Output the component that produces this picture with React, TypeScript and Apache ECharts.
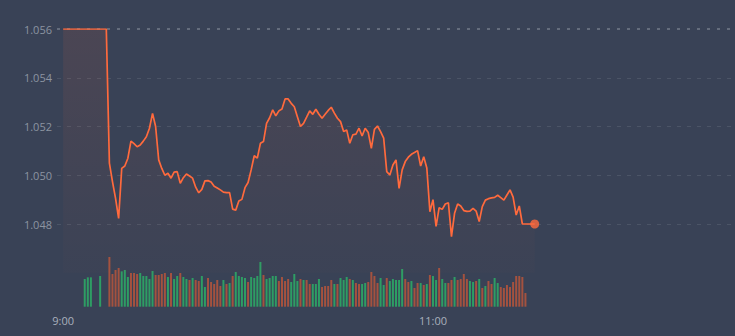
import React, { useEffect, useRef } from "react";
import * as echarts from "echarts";

// minute slots on the axis, starting two minutes before 9:00
const startOffset = 2;
const categories: string[] = (() => {
  const out: string[] = [];
  for (let i = -startOffset; i <= 218; i++) {
    const t = 9 * 60 + i;
    out.push(`${Math.floor(t / 60)}:${String(t % 60).padStart(2, "0")}`);
  }
  return out;
})();
const shownTimeLabels = ["9:00", "11:00"];

const priceMin = 1.046;
const priceMax = 1.056; // previous close, drawn as the dotted top line
const priceStep = 0.002;

// price per minute from 9:00
const price: number[] = [
  1.056, 1.056, 1.056, 1.056, 1.056, 1.056, 1.056, 1.056, 1.056, 1.056, 1.056, 1.056, 1.056, 1.056, 1.056,
  1.0505, 1.04974, 1.04905, 1.04823, 1.05028, 1.05038, 1.0507, 1.0514, 1.0513, 1.05117,
  1.05124, 1.0514, 1.05158, 1.05193, 1.05254, 1.052, 1.05063, 1.05028, 1.05, 1.05008,
  1.04988, 1.05013, 1.05015, 1.04967, 1.0499, 1.05005, 1.04997, 1.04988, 1.04951, 1.04928,
  1.04942, 1.04977, 1.04978, 1.04972, 1.04955, 1.04948, 1.0494, 1.04931, 1.04929, 1.04929,
  1.04861, 1.04857, 1.04894, 1.04901, 1.04949, 1.0497, 1.05022, 1.0508, 1.0507, 1.05131,
  1.05138, 1.05213, 1.05236, 1.05268, 1.05244, 1.05264, 1.05272, 1.05313, 1.05313, 1.05295,
  1.05281, 1.0524, 1.052, 1.05213, 1.05238, 1.05264, 1.0525, 1.05271, 1.0525, 1.05234,
  1.0525, 1.05266, 1.05279, 1.05255, 1.05234, 1.0522, 1.05179, 1.05186, 1.05131, 1.05166,
  1.05169, 1.05193, 1.05161, 1.05193, 1.05175, 1.0511, 1.05188, 1.05202, 1.05179, 1.05152,
  1.05015, 1.05001, 1.05042, 1.05063, 1.04946, 1.05022, 1.05056, 1.05074, 1.05086, 1.05093,
  1.05101, 1.05038, 1.05076, 1.0503, 1.0485, 1.049, 1.0479, 1.04867, 1.0486, 1.04882,
  1.04887, 1.04748, 1.04844, 1.04882, 1.04874, 1.04855, 1.04852, 1.04853, 1.04864, 1.04853,
  1.0481, 1.04871, 1.04898, 1.04904, 1.04907, 1.04909, 1.04918, 1.04908, 1.04898, 1.04919,
  1.0494, 1.0491, 1.04837, 1.04874, 1.048, 1.048, 1.048, 1.048, 1.048,
];

// volume per minute from 9:00 (null = no trade)
const volume: (number | null)[] = [
  null, null, null, null, null, null, null, 83, 88, 88, null, null, 92, null, null,
  149, 98, 110, 116, 106, 110, 89, 101, 101, 98, 101, 92, 92, 83, 107,
  95, 95, 98, 101, 89, 101, 83, 92, 101, 89, 83, 80, 86, 80, 77,
  92, 59, 86, 74, 68, 80, 62, 80, 68, 71, 92, 104, 92, 89, 86,
  74, 89, 86, 92, 134, 95, 83, 86, 92, 92, 77, 89, 77, 83, 74,
  98, 77, 83, 80, 80, 68, 68, 68, 83, 59, 62, 62, 80, 68, 68,
  86, 80, 89, 83, 80, 71, 68, 68, 71, 74, 104, 92, 71, 86, 65,
  86, 77, 83, 80, 80, 113, 83, 74, 77, 56, 71, 71, 65, 68, 95,
  92, 80, 116, 83, 71, 71, 80, 89, 80, 83, 98, 83, 77, 74, 77,
  83, 56, 62, 77, 68, 86, 71, 59, 56, 65, 59, 74, 92, 92, 89,
  41,
];
// bar colour per minute: g = rising, r = falling
const direction: string =
  "-------ggg--g--" +
  "rrrrgggrrrgggggrrrrgrggrggrgrrggrrrrrgrgrggggrggggrggggrrrrggg" +
  "rgrrgggrrrrgrgggrgrrggrrrrggrgggggrrgrrgrgrggrggrrgrrrrggrgrgrrggrrrrr";

const bg = "#394256";
const lineColor = "#ff6a3d";
const upColor = "#2e9d64";
const downColor = "#a4523f";
const gridLineColor = "#4b5466";
const topLineColor = "#646c7c";

export default function App() {
  const ref = useRef<HTMLDivElement>(null);
  useEffect(() => {
    if (!ref.current) return;
    const chart = echarts.init(ref.current, undefined, { renderer: "svg" });
    const pad = new Array(startOffset).fill(null);
    const lineData = [...pad, ...price];
    const volData = [...pad, ...volume].map((v, i) => {
      if (v == null) return null;
      const d = direction[i - startOffset];
      return { value: v, itemStyle: { color: d === "g" ? upColor : downColor } };
    });
    const lastIdx = price.length - 1 + startOffset;
    const nLines = Math.round((priceMax - priceMin) / priceStep) + 1;
    const dashedColors = Array.from({ length: nLines }, (_, i) =>
      i === 0 || i === nLines - 1 ? "rgba(0,0,0,0)" : gridLineColor
    );
    const dottedColors = Array.from({ length: nLines }, (_, i) =>
      i === nLines - 1 ? topLineColor : "rgba(0,0,0,0)"
    );
    const priceAxisBase = {
      type: "value",
      gridIndex: 0,
      min: priceMin,
      max: priceMax,
      interval: priceStep,
      axisLine: { show: false },
      axisTick: { show: false },
    };
    chart.setOption({
      animation: false,
      backgroundColor: bg,
      grid: [
        { left: 57, right: 0, top: 29, height: 243.75 },
        { left: 57, right: 0, top: 256, height: 50.7 },
      ],
      xAxis: [
        {
          type: "category",
          gridIndex: 0,
          data: categories,
          boundaryGap: false,
          axisLine: { show: false },
          axisTick: { show: false },
          axisLabel: { show: false },
          splitLine: { show: false },
        },
        {
          type: "category",
          gridIndex: 1,
          data: categories,
          boundaryGap: false,
          axisLine: { show: false },
          axisTick: { show: false },
          splitLine: { show: false },
          axisLabel: {
            interval: (_i: number, v: string) => shownTimeLabels.includes(v),
            color: "#a9b0bc",
            fontSize: 11,
            fontFamily: "Open Sans",
            margin: 8,
          },
        },
      ],
      yAxis: [
        {
          ...priceAxisBase,
          axisLabel: {
            showMinLabel: false,
            formatter: (v: number) => v.toFixed(3),
            color: "#8c94a1",
            fontSize: 11,
            fontFamily: "Open Sans",
            margin: 5,
          },
          splitLine: {
            show: true,
            showMinLine: true,
            showMaxLine: true,
            lineStyle: { color: dashedColors, type: [4, 6], width: 1 },
          },
        },
        {
          type: "value",
          gridIndex: 1,
          min: 0,
          max: 152,
          show: false,
          splitLine: { show: false },
        },
        {
          ...priceAxisBase,
          position: "left",
          axisLabel: { show: false },
          splitLine: {
            show: true,
            showMinLine: true,
            showMaxLine: true,
            lineStyle: { color: dottedColors, type: [3, 7], width: 2 },
          },
        },
      ],
      series: [
        {
          type: "line",
          xAxisIndex: 0,
          yAxisIndex: 0,
          data: lineData,
          showSymbol: false,
          symbol: "none",
          lineStyle: { color: lineColor, width: 1.7 },
          areaStyle: {
            color: new echarts.graphic.LinearGradient(0, 0, 0, 1, [
              { offset: 0, color: "rgba(255,106,61,0.13)" },
              { offset: 1, color: "rgba(255,106,61,0.02)" },
            ]),
          },
          z: 3,
        },
        {
          type: "scatter",
          xAxisIndex: 0,
          yAxisIndex: 0,
          data: [[lastIdx, price[price.length - 1]]],
          symbolSize: 9,
          itemStyle: { color: lineColor },
          z: 4,
        },
        {
          type: "bar",
          xAxisIndex: 1,
          yAxisIndex: 1,
          data: volData,
          barWidth: 2,
        },
      ],
    });
    return () => chart.dispose();
  }, []);
  return (
    <div
      ref={ref}
      style={{ position: "fixed", left: 0, top: 0, width: 735, height: 336 }}
    />
  );
}
